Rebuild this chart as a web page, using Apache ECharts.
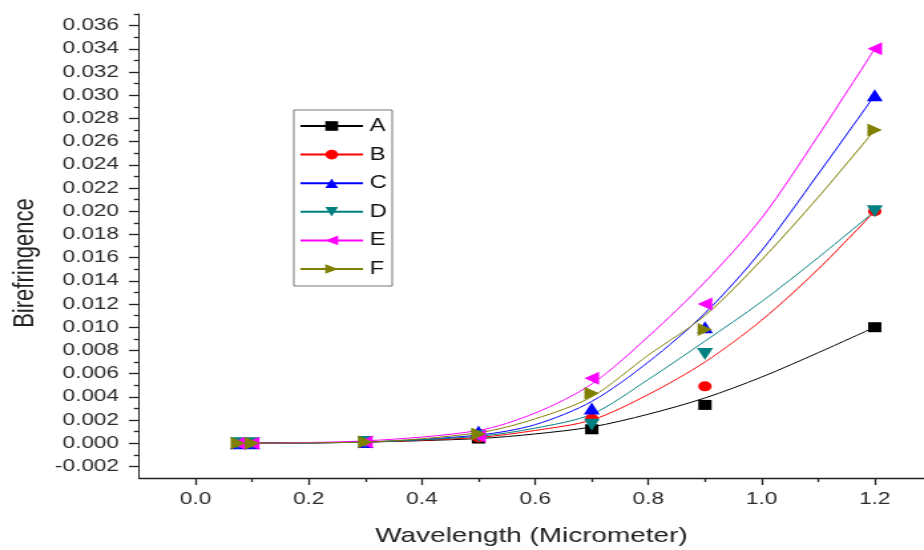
<!DOCTYPE html>
<html>
<head>
<meta charset="utf-8">
<script src="https://cdn.jsdelivr.net/npm/echarts@6/dist/echarts.min.js"></script>
<style>
  html, body { margin: 0; padding: 0; background: #fff; overflow: hidden; }
  /* the plot is laid out narrow and widened, so text and markers come out broad */
  #chart { width: 695px; height: 550px; transform: scaleX(1.3295); transform-origin: 0 0; }
</style>
</head>
<body>
<div id="chart"></div>
<script>
// measured points
const xMeasured = [0.075, 0.1, 0.3, 0.5, 0.7, 0.9, 1.2];
const ptsA = [0, 0, 0.0001, 0.0004, 0.0012, 0.0033, 0.010];
const ptsB = [0, 0, 0.0001, 0.0005, 0.0021, 0.0049, 0.020];
const ptsC = [0, 0, 0.0001, 0.0010, 0.0030, 0.0100, 0.030];
const ptsD = [0, 0, 0.0001, 0.0006, 0.0016, 0.0077, 0.020];
const ptsE = [0, 0, 0.0001, 0.0006, 0.0056, 0.0120, 0.034];
const ptsF = [0, 0, 0.0001, 0.0008, 0.0043, 0.0098, 0.027];

// fitted trend curves
const xFit = [0.075, 0.3, 0.5, 0.6, 0.7, 0.8, 0.9, 1.0, 1.1, 1.2];
const fitA = [0, 0.0001, 0.0004, 0.0008, 0.0014, 0.0025, 0.0039, 0.0057, 0.0078, 0.010];
const fitB = [0, 0.0001, 0.0005, 0.0011, 0.0020, 0.0042, 0.0070, 0.0106, 0.0150, 0.020];
const fitC = [0, 0.0001, 0.0007, 0.0016, 0.0036, 0.0070, 0.0112, 0.0166, 0.0232, 0.030];
const fitD = [0, 0.0001, 0.0006, 0.0013, 0.0025, 0.0055, 0.0088, 0.0122, 0.0160, 0.020];
const fitE = [0, 0.0002, 0.0011, 0.0026, 0.0051, 0.0092, 0.0139, 0.0194, 0.0265, 0.034];
const fitF = [0, 0.0001, 0.0009, 0.0021, 0.0040, 0.0076, 0.0110, 0.0158, 0.0212, 0.027];

const seriesNames = ['A', 'B', 'C', 'D', 'E', 'F'];
const seriesColors = ['#000000', '#ff0000', '#0000ff', '#008080', '#ff00ff', '#808000'];

// axis ticks
const xTicks = [0.0, 0.2, 0.4, 0.6, 0.8, 1.0, 1.2];
const xMinorTicks = [0.1, 0.3, 0.5, 0.7, 0.9, 1.1];
const yTicks = [-0.002, 0.000, 0.002, 0.004, 0.006, 0.008, 0.010, 0.012, 0.014, 0.016, 0.018,
                0.020, 0.022, 0.024, 0.026, 0.028, 0.030, 0.032, 0.034, 0.036];
const yMinorTicks = [-0.001, 0.001, 0.003, 0.005, 0.007, 0.009, 0.011, 0.013, 0.015, 0.017, 0.019,
                     0.021, 0.023, 0.025, 0.027, 0.029, 0.031, 0.033, 0.035, 0.037];

const pts = [ptsA, ptsB, ptsC, ptsD, ptsE, ptsF];
const fits = [fitA, fitB, fitC, fitD, fitE, fitF];

// marker shapes: square, circle, up / down / left / right triangles
const shapes = [
  'rect',
  'circle',
  'triangle',
  'path://M0,0 L10,0 L5,10 Z',
  'path://M0,5 L10,0 L10,10 Z',
  'path://M0,0 L10,5 L0,10 Z'
];
const sizes = [10, 10, [12, 12], [12, 12], [11, 13], [11, 13]];

const font = 'Liberation Sans, Arial, sans-serif';
const axisColor = '#222';

const series = [];
seriesNames.forEach((name, i) => {
  series.push({
    name: name,
    type: 'line',
    data: xFit.map((x, k) => [x, fits[i][k]]),
    smooth: 0.3,
    showSymbol: false,
    symbol: shapes[i],
    symbolSize: sizes[i],
    color: seriesColors[i],
    lineStyle: { width: 1, color: seriesColors[i] },
    z: 2
  });
});
seriesNames.forEach((name, i) => {
  series.push({
    name: name,
    type: 'scatter',
    data: xMeasured.map((x, k) => [x, pts[i][k]]),
    symbol: shapes[i],
    symbolSize: sizes[i],
    itemStyle: { color: seriesColors[i], opacity: 1 },
    z: 3
  });
});

const chart = echarts.init(document.getElementById('chart'), null, { renderer: 'canvas' });
chart.setOption({
  animation: false,
  backgroundColor: '#ffffff',
  grid: { left: 104.5, right: 0, top: 14, bottom: 72, outerBoundsMode: 'none', containLabel: false },
  legend: {
    data: seriesNames,
    orient: 'vertical',
    left: 221,
    top: 110,
    itemWidth: 47,
    itemHeight: 12,
    itemGap: 10.6,
    padding: [7, 4, 8, 4],
    borderColor: '#777',
    borderWidth: 1,
    selectedMode: false,
    textStyle: { fontSize: 18, color: '#111', fontFamily: font }
  },
  xAxis: [{
    type: 'value',
    min: -0.1,
    max: 1.287,
    axisLine: { show: true, onZero: false, lineStyle: { color: axisColor, width: 1.3 } },
    axisTick: { show: true, length: 7, customValues: xTicks, lineStyle: { color: axisColor, width: 1.3 } },
    axisLabel: {
      customValues: xTicks, margin: 13, fontSize: 17, color: '#2b2b2b', fontFamily: font,
      formatter: v => v.toFixed(1)
    },
    splitLine: { show: false },
    name: 'Wavelength (Micrometer)',
    nameLocation: 'middle',
    nameGap: 48,
    nameTextStyle: { fontSize: 21, color: '#222', fontFamily: font }
  }, {
    type: 'value',
    min: -0.1,
    max: 1.287,
    position: 'bottom',
    axisLine: { show: false, onZero: false },
    axisTick: { show: true, length: 4, customValues: xMinorTicks, lineStyle: { color: axisColor, width: 1.3 } },
    axisLabel: { show: false },
    splitLine: { show: false }
  }],
  yAxis: [{
    type: 'value',
    min: -0.003,
    max: 0.037,
    axisLine: { show: true, onZero: false, lineStyle: { color: axisColor, width: 1 } },
    axisTick: { show: true, length: 7.5, customValues: yTicks, lineStyle: { color: axisColor, width: 1.3 } },
    axisLabel: {
      customValues: yTicks, margin: 15, fontSize: 17, color: '#2b2b2b', fontFamily: font,
      formatter: v => v.toFixed(3)
    },
    splitLine: { show: false },
    name: 'Birefringence',
    nameLocation: 'middle',
    nameGap: 72,
    nameTextStyle: { fontSize: 22, color: '#222', fontFamily: font, padding: [0, 34, 0, 0] }
  }, {
    type: 'value',
    min: -0.003,
    max: 0.037,
    position: 'left',
    axisLine: { show: false, onZero: false },
    axisTick: { show: true, length: 3.8, customValues: yMinorTicks, lineStyle: { color: axisColor, width: 1.3 } },
    axisLabel: { show: false },
    splitLine: { show: false }
  }],
  series: series
});
</script>
</body>
</html>
